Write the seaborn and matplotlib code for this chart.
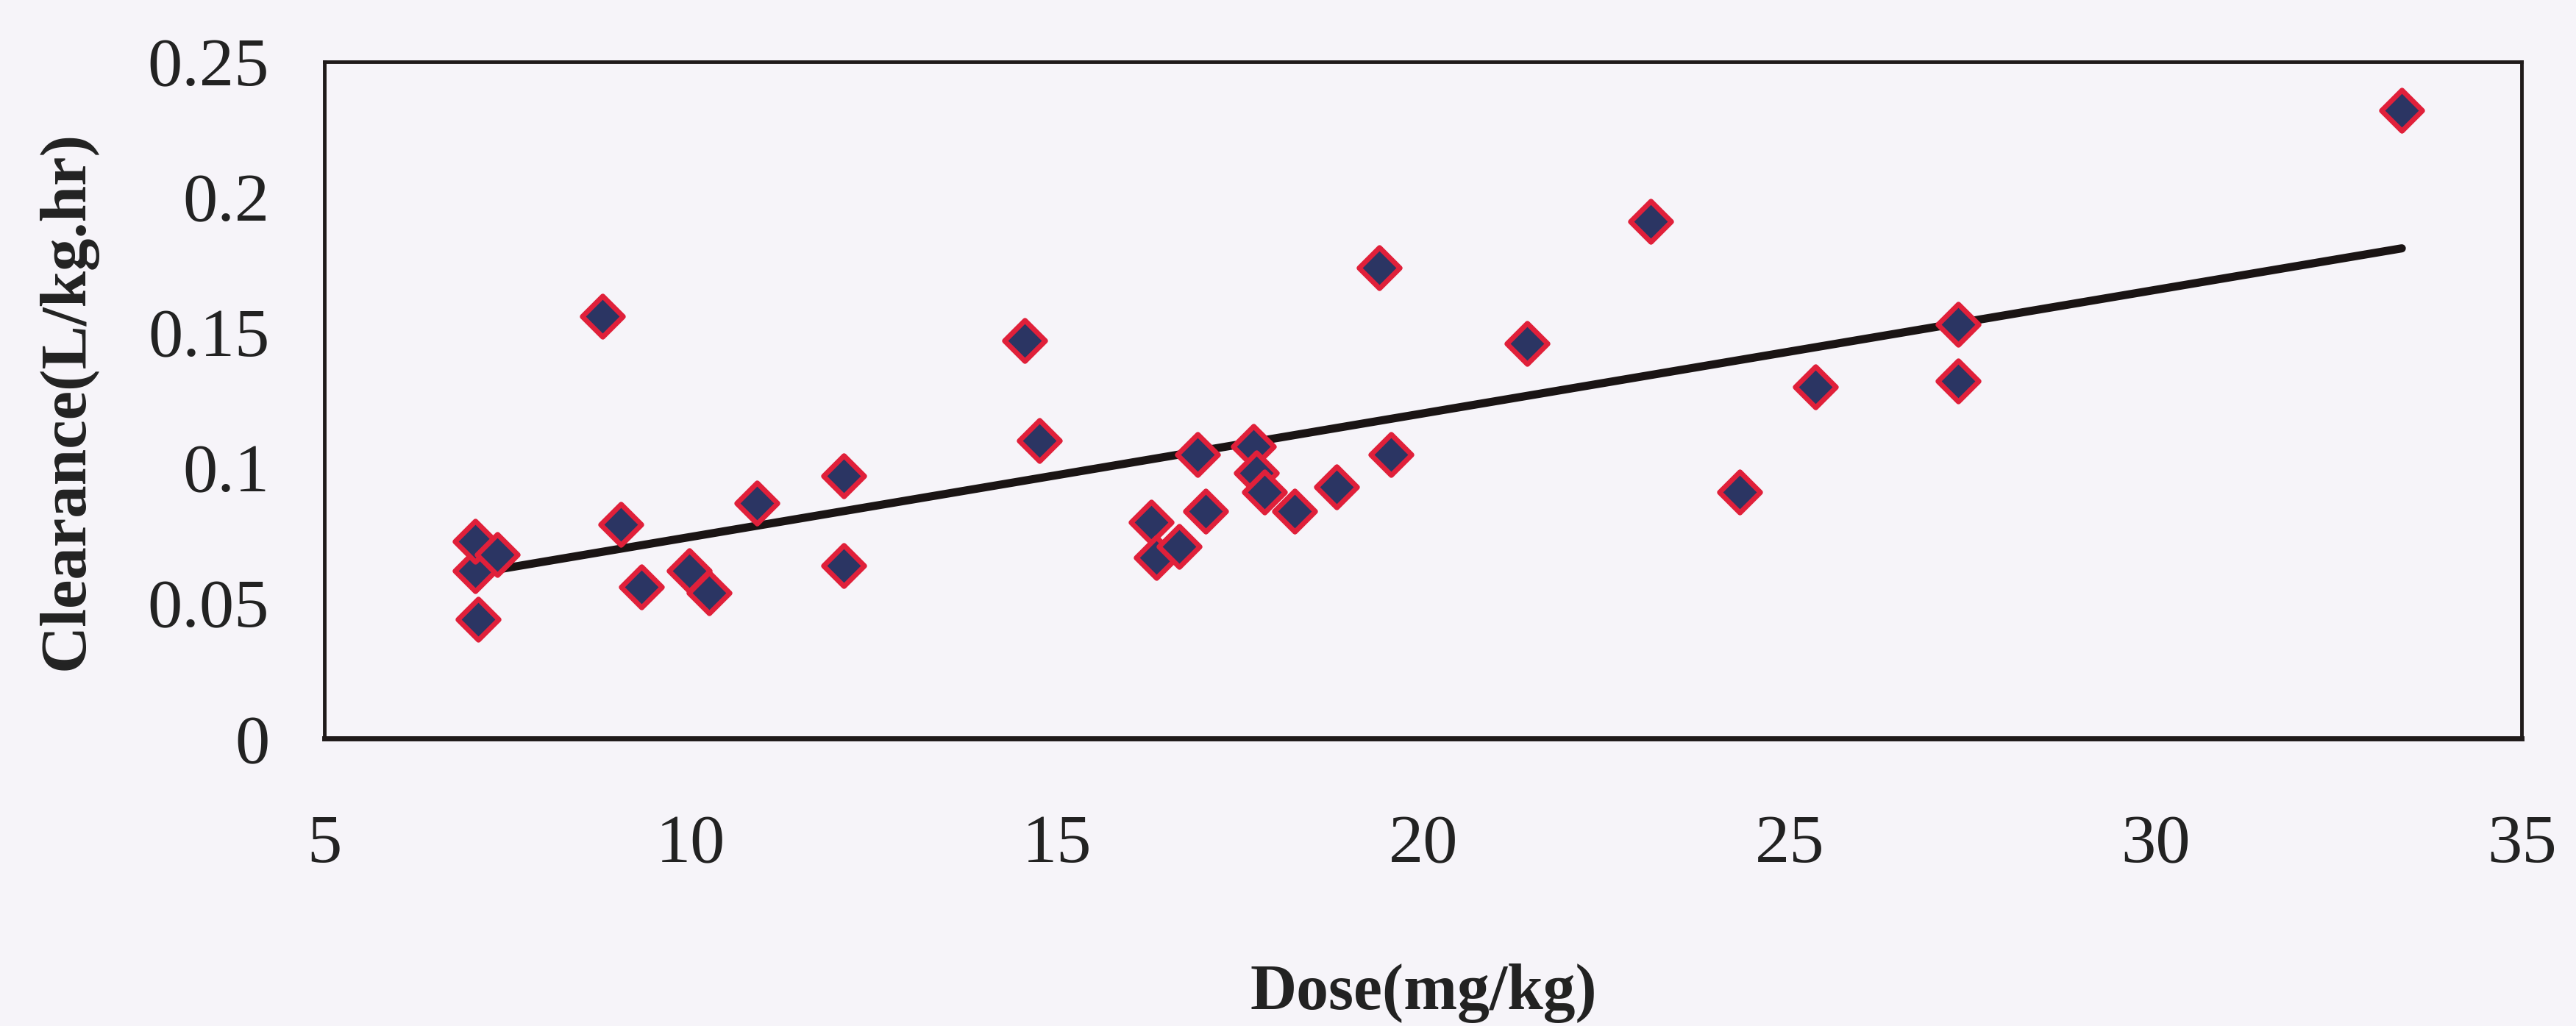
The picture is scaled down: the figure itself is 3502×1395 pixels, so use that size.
import numpy as np
import pandas as pd
import matplotlib
matplotlib.use("Agg")
import matplotlib.pyplot as plt
import seaborn as sns

# values
dose = [7.06, 7.06, 7.10, 7.36, 8.79, 9.04, 9.33, 9.98, 10.25, 10.90,
        12.09, 12.09, 14.56, 14.76, 16.29, 16.36, 16.67, 16.92, 17.03, 17.68,
        17.72, 17.83, 18.24, 18.82, 19.40, 19.56, 21.42, 23.10, 24.32, 25.35,
        27.30, 27.30, 33.36]
clearance = [0.062, 0.073, 0.044, 0.068, 0.156, 0.079, 0.056, 0.062, 0.054, 0.087,
             0.097, 0.064, 0.147, 0.110, 0.080, 0.067, 0.071, 0.105, 0.084, 0.108,
             0.098, 0.091, 0.084, 0.093, 0.174, 0.105, 0.146, 0.191, 0.091, 0.130,
             0.153, 0.132, 0.232]
x_ticks = [5, 10, 15, 20, 25, 30, 35]
y_ticks = [0, 0.05, 0.1, 0.15, 0.2, 0.25]
y_tick_labels = ["0", "0.05", "0.1", "0.15", "0.2", "0.25"]

df = pd.DataFrame({"Dose": dose, "Clearance": clearance})

sns.set_style("white")
plt.rcParams["font.family"] = ["Liberation Serif", "DejaVu Serif"]

bg = "#f6f4f9"
fig, ax = plt.subplots(figsize=(35.02, 13.95), dpi=100, facecolor=bg)
ax.set_facecolor(bg)
fig.subplots_adjust(left=0.126, right=0.979, top=0.94, bottom=0.28)

# linear trend line
sns.regplot(x="Dose", y="Clearance", data=df, scatter=False, ci=None, ax=ax,
            line_kws={"color": "#1a1414", "linewidth": 8, "solid_capstyle": "round"})
sns.scatterplot(x="Dose", y="Clearance", data=df, ax=ax, marker="D", s=800,
                color="#2b3563", edgecolor="#e0203a", linewidth=5, zorder=3)

ax.set_xlim(5, 35)
ax.set_ylim(0, 0.25)
ax.set_xticks(x_ticks)
ax.set_yticks(y_ticks)
ax.set_yticklabels(y_tick_labels)
ax.tick_params(axis="both", labelsize=68, colors="#222222", direction="inout",
               length=28, width=2)
ax.tick_params(axis="x", pad=60, color="#bbbbbb")
ax.tick_params(axis="y", pad=40)

for sp in ax.spines.values():
    sp.set_visible(True)
    sp.set_color("#1f1a1a")
    sp.set_linewidth(3.5)
ax.spines["bottom"].set_linewidth(5)

ax.set_xlabel("Dose(mg/kg)", fontsize=63, fontweight="bold", labelpad=85, color="#222222")
ax.set_ylabel("Clearance(L/kg.hr)", fontsize=64, fontweight="bold", labelpad=50, color="#222222")

fig.savefig("out.png", dpi=100, facecolor=bg)
